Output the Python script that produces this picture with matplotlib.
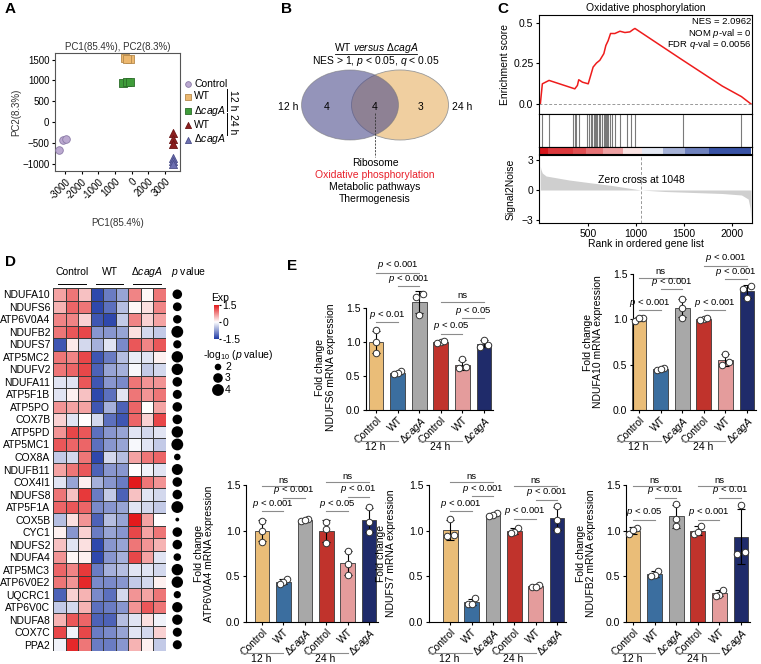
import numpy as np
import matplotlib
matplotlib.use("Agg")
import matplotlib.pyplot as plt
from matplotlib.patches import Ellipse
from matplotlib.colors import LinearSegmentedColormap
import matplotlib.transforms as mtransforms

plt.rcParams['font.family'] = ['Liberation Sans', 'DejaVu Sans']
plt.rcParams['mathtext.fontset'] = 'custom'
plt.rcParams['mathtext.rm'] = 'Liberation Sans'
plt.rcParams['mathtext.it'] = 'Liberation Sans:italic'
plt.rcParams['axes.linewidth'] = 0.8
plt.rcParams['font.size'] = 7.5

W, H = 761, 664
DCAGA = r'$\Delta$$\it{cagA}$'

# ---- A: PCA ----
pca_labels = ['Control', 'WT', DCAGA, 'WT', DCAGA]
pca_x = [[-3120, -2950, -3350], [600, 900, 720], [480, 720, 900], [3480, 3480, 3480], [3480, 3480, 3480]]
pca_y = [[-427, -400, -670], [1540, 1520, 1510], [930, 960, 975], [-260, -410, -525], [-870, -930, -1020]]
pca_xticklabels = ['-3000', '-2000', '-1000', '1000', '0', '2000', '3000']

# ---- B: Venn ----
venn_sets = ['12 h', '24 h']
venn_counts = [4, 4, 3]
shared_terms = ['Ribosome', 'Oxidative phosphorylation', 'Metabolic pathways', 'Thermogenesis']

# ---- C: GSEA ----
es_rank = [0, 21, 91, 360, 387, 401, 440, 500, 551, 586, 621, 663, 684, 708, 733, 778, 831, 883,
           935, 970, 988, 1460, 1900, 2100, 2199]
es_score = [0, 0.124, 0.145, 0.093, 0.114, 0.149, 0.134, 0.124, 0.227, 0.252, 0.269, 0.31, 0.36,
            0.39, 0.434, 0.434, 0.448, 0.44, 0.444, 0.459, 0.465, 0.28, 0.11, 0.045, 0]
hit_rank = [21, 91, 342, 360, 377, 401, 489, 510, 524, 541, 558, 569, 579, 593, 614, 628, 649,
            663, 674, 684, 698, 709, 726, 743, 778, 831, 901, 942, 988, 1487, 2094]
strip_edges = [0, 80, 342, 480, 656, 866, 1058, 1284, 1511, 1756, 2199]
strip_vals = [1.0, 0.85, 0.75, 0.6, 0.4, 0.12, -0.12, -0.4, -0.65, -0.9]
s2n_rank = [0, 5, 20, 60, 150, 300, 500, 750, 1048, 1300, 1600, 1900, 2100, 2170, 2190, 2199]
s2n_val = [2.4, 2.1, 1.7, 1.4, 1.25, 1.0, 0.75, 0.45, 0.0, -0.15, -0.25, -0.35, -0.5, -0.9, -1.8, -3.0]

# ---- D: heatmap ----
genes = ['NDUFA10', 'NDUFS6', 'ATP6V0A4', 'NDUFB2', 'NDUFS7', 'ATP5MC2', 'NDUFV2', 'NDUFA11',
         'ATP5F1B', 'ATP5PO', 'COX7B', 'ATP5PD', 'ATP5MC1', 'COX8A', 'NDUFB11', 'COX4I1', 'NDUFS8',
         'ATP5F1A', 'COX5B', 'CYC1', 'NDUFS2', 'NDUFA4', 'ATP5MC3', 'ATP6V0E2', 'UQCRC1', 'ATP6V0C',
         'NDUFA8', 'COX7C', 'PPA2']
exp = np.array([
    [0.6, 0.9, 0.4, -1.4, -1.0, -0.7, 0.8, 0.05, 0.9],
    [0.5, 1.0, 0.9, -1.4, -1.1, -0.5, 0.05, 0.2, 0.8],
    [0.8, 0.8, 0.3, -1.3, -1.4, -0.4, 0.8, 0.3, 0.6],
    [0.9, 1.1, 1.2, -0.8, -0.8, -0.7, 0.2, -0.3, -0.4],
    [-1.3, 0.15, -0.3, -0.6, -0.2, -0.9, 1.1, 0.8, 1.1],
    [0.9, 0.8, 1.2, -1.3, -1.0, -0.5, -0.15, -0.2, 0.1],
    [0.9, 1.0, 1.2, -1.2, -0.7, -0.6, -0.05, -0.4, -0.3],
    [-0.2, -0.2, 1.1, -1.3, -0.8, -0.9, 0.9, 0.7, 0.7],
    [-0.2, 0.1, 0.4, -1.4, -1.1, -0.2, 0.9, 0.7, 0.9],
    [0.7, 0.6, 0.6, -1.3, -0.6, -1.2, 1.0, 0.0, 0.6],
    [0.3, -0.2, 0.0, -0.3, -1.1, -1.3, 1.0, 0.3, 1.2],
    [0.7, 1.2, 1.1, -1.1, -0.8, -0.7, -0.2, -0.3, -0.2],
    [1.1, 1.0, 1.0, -1.1, -0.8, -0.7, -0.05, -0.2, -0.4],
    [-0.4, -0.3, 0.9, -1.4, -0.3, -0.5, 0.6, 0.9, 1.0],
    [0.6, 0.9, 1.1, -1.2, -0.8, -0.8, 0.0, -0.1, -0.2],
    [-0.2, -0.7, 0.1, -0.6, -0.8, -1.0, 1.5, 0.9, 0.7],
    [0.9, 0.4, 1.3, -1.0, -0.4, -1.2, 0.4, -0.2, -0.3],
    [1.0, 1.1, 1.0, -0.9, -0.8, -0.7, -0.2, -0.3, -0.4],
    [-0.5, 0.2, 0.7, -1.2, -0.5, -0.7, 1.5, 0.6, 0.0],
    [0.1, -0.8, 0.3, -1.0, -0.7, -0.8, 1.2, 0.6, 0.9],
    [0.4, -0.2, 0.2, -1.4, -0.8, -0.7, 0.9, 0.7, 0.5],
    [0.7, 0.05, 0.1, -1.4, -0.8, -0.6, 1.2, 0.6, -0.2],
    [1.0, 0.8, 1.3, -1.0, -0.6, -0.5, -0.2, -0.2, -0.3],
    [0.9, 0.7, 1.4, -0.9, -0.9, -0.8, -0.4, -0.3, 0.1],
    [-1.2, 0.3, 0.5, -0.9, -1.1, -0.3, 0.7, 0.6, 0.9],
    [-0.4, -0.3, 0.5, -1.1, -1.0, -0.8, 0.7, 1.1, 0.9],
    [0.5, 1.1, 1.0, -1.2, -1.2, -0.5, -0.2, 0.2, -0.1],
    [1.2, -0.1, 1.2, -1.0, -0.9, -0.7, -0.2, -0.3, 0.3],
    [-0.1, 1.4, 0.9, -1.0, -1.0, -0.8, 0.5, 0.1, -0.4]])
neglog_p = [3.0, 2.7, 2.6, 4.0, 2.5, 3.8, 3.8, 3.0, 2.8, 3.0, 3.0, 3.8, 4.0, 2.0, 3.6, 3.0, 3.0,
            4.0, 1.4, 3.0, 3.0, 2.3, 3.8, 3.8, 2.2, 3.3, 3.3, 2.8, 2.8]
heat_groups = ['Control', 'WT', DCAGA]

# ---- E: qPCR ----
bar_labels = ['Control', 'WT', DCAGA, 'Control', 'WT', DCAGA]
bar_colors = ['#EABD78', '#3B6E9F', '#A8A8A8', '#C0332C', '#E49C9C', '#1F2B6A']
ndufs6 = [[1.17, 1.0, 0.84], [0.57, 0.55, 0.53], [1.70, 1.66, 1.40], [1.00, 0.99, 1.01], [0.75, 0.63, 0.62], [1.03, 0.93, 0.96]]
ndufa10 = [[1.02, 0.98, 1.01], [0.46, 0.44, 0.45], [1.22, 1.02, 1.13], [1.0, 0.99, 1.01], [0.62, 0.50, 0.53], [1.37, 1.23, 1.33]]
atp6v0a4 = [[1.11, 1.0, 0.88], [0.47, 0.44, 0.42], [1.13, 1.11, 1.12], [1.10, 1.02, 0.87], [0.78, 0.63, 0.52], [1.26, 1.10, 0.99]]
ndufs7 = [[1.13, 0.95, 0.94], [0.26, 0.20, 0.20], [1.19, 1.17, 1.16], [1.03, 0.98, 0.97], [0.41, 0.38, 0.38], [1.27, 1.12, 1.01]]
ndufb2 = [[1.03, 0.96, 1.01], [0.56, 0.51, 0.50], [1.29, 1.13, 1.05], [1.05, 0.96, 0.99], [0.35, 0.30, 0.29], [1.28, 0.77, 0.75]]
# p labels: (12h C-WT, 12h WT-d, 12h C-d, 24h C-WT, 24h WT-d, 24h C-d)
ndufs6_p = ['p < 0.01', 'p < 0.001', 'p < 0.001', 'p < 0.05', 'p < 0.05', 'ns']
ndufa10_p = ['p < 0.001', 'p < 0.001', 'ns', 'p < 0.001', 'p < 0.001', 'p < 0.001']
atp6v0a4_p = ['p < 0.001', 'p < 0.001', 'ns', 'p < 0.05', 'p < 0.01', 'ns']
ndufs7_p = ['p < 0.001', 'p < 0.001', 'ns', 'p < 0.001', 'p < 0.001', 'ns']
ndufb2_p = ['p < 0.05', 'p < 0.01', 'ns', 'p < 0.001', 'p < 0.01', 'ns']

fig = plt.figure(figsize=(W / 100, H / 100), dpi=100)


def px_axes(x0, y0, x1, y1):
    return fig.add_axes([x0 / W, 1 - y1 / H, (x1 - x0) / W, (y1 - y0) / H])


def ptxt(s):
    return s.replace('p <', r'$\it{p}$ <')


ov = fig.add_axes([0, 0, 1, 1])
ov.set_xlim(0, W)
ov.set_ylim(H, 0)
ov.set_axis_off()

for lab, x, y in [('A', 5, 9), ('B', 281, 9), ('C', 497, 9), ('D', 5, 262), ('E', 287, 266)]:
    ov.text(x, y, lab, fontsize=11, fontweight='bold', va='center', ha='left')

# ---------------- A ----------------
axa = px_axes(55, 53, 180, 171)
pca_style = [dict(marker='o', c='#BBA9D0', edgecolors='#8A7AA6', s=30),
             dict(marker='s', c='#EDB86F', edgecolors='#B68A4C', s=30),
             dict(marker='s', c='#3F9C3A', edgecolors='#2B6C29', s=30),
             dict(marker='^', c='#8C1F1F', edgecolors='#6A1414', s=34),
             dict(marker='^', c='#6D70B1', edgecolors='#4B4E8A', s=34)]
handles = []
for lab, xs, ys, st in zip(pca_labels, pca_x, pca_y, pca_style):
    handles.append(axa.scatter(xs, ys, linewidths=0.6, label=lab, clip_on=False, zorder=3, **st))
axa.set_xlim(-3600, 3900)
axa.set_ylim(-1177, 1661)
axa.set_xticks(np.arange(-3000, 3001, 1000))
axa.set_xticklabels(pca_xticklabels, rotation=45, ha='right', rotation_mode='anchor', fontsize=7)
axa.set_yticks([1500, 1000, 500, 0, -500, -1000])
axa.tick_params(labelsize=7, length=2.5, pad=1.5)
axa.set_title('PC1(85.4%), PC2(8.3%)', fontsize=7, pad=2, color='#333333')
axa.set_ylabel('PC2(8.3%)', fontsize=7, labelpad=1, color='#333333')
axa.set_xlabel('PC1(85.4%)', fontsize=7, labelpad=0, color='#333333')
axa.yaxis.set_label_coords(-0.27, 0.5)
axa.xaxis.set_label_coords(0.5, -0.4)
for sp in axa.spines.values():
    sp.set_color('#555555')
leg = fig.legend(handles=handles, loc='upper left', bbox_to_anchor=(179 / W, 1 - 75 / H),
                 frameon=False, fontsize=7.5, handletextpad=0.05, labelspacing=0.22,
                 handlelength=1.0, borderaxespad=0, markerscale=0.75)
ov.plot([227, 227], [89, 111], color='black', lw=0.7)
ov.plot([227, 227], [113, 135], color='black', lw=0.7)
ov.text(233, 100, '12 h', rotation=-90, va='center', ha='center', fontsize=7.5)
ov.text(233, 124, '24 h', rotation=-90, va='center', ha='center', fontsize=7.5)

# ---------------- B ----------------
ov.add_patch(Ellipse((400, 105), 97, 70, facecolor='#F0CFA0', edgecolor='#999999', lw=0.6, zorder=1))
ov.add_patch(Ellipse((350, 105), 97, 70, facecolor='#4D4D8C', alpha=0.6, edgecolor='#777777', lw=0.6, zorder=2))
ov.text(376, 48, r'WT $\it{versus}$ $\Delta$$\it{cagA}$', ha='center', va='center', fontsize=7.5)
ov.plot([335, 417], [53.5, 53.5], color='black', lw=0.6)
ov.text(376, 61, r'NES > 1, $\it{p}$ < 0.05, $\it{q}$ < 0.05', ha='center', va='center', fontsize=7.5)
ov.text(288, 107, venn_sets[0], ha='center', va='center', fontsize=7.5)
ov.text(462, 107, venn_sets[1], ha='center', va='center', fontsize=7.5)
for cx, n in zip([327, 375, 421], venn_counts):
    ov.text(cx, 107, str(n), ha='center', va='center', fontsize=7.5, zorder=4)
ov.plot([375, 375], [113, 157], color='#333333', lw=0.6, ls=(0, (2.5, 1.5)), zorder=4)
for k, term in enumerate(shared_terms):
    ov.text(375, 163 + 12 * k, term, ha='center', va='center', fontsize=7.5,
            color='#E8202A' if k == 1 else 'black')

# ---------------- C ----------------
xl_c = (-14, 2210)
axes_c = px_axes(539, 15, 752, 114)
axes_c.plot(es_rank, es_score, color='#EE1C1C', lw=1.1)
axes_c.axhline(0, color='#999999', lw=0.7, ls=(0, (3, 2)))
axes_c.set_xlim(*xl_c)
axes_c.set_ylim(-0.062, 0.548)
axes_c.set_xticks([])
axes_c.set_yticks([0, 0.25, 0.5])
axes_c.set_yticklabels(['0.0', '0.25', '0.5'])
axes_c.tick_params(labelsize=7.5, length=2.5, pad=1.5)
axes_c.set_title('Oxidative phosphorylation', fontsize=7.5, pad=3)
axes_c.set_ylabel('Enrichment score', fontsize=7.5)
axes_c.yaxis.set_label_coords(-0.135, 0.5)
for k, s in enumerate(['NES = 2.0962', r'NOM $\it{p}$-val = 0', r'FDR $\it{q}$-val = 0.0056']):
    axes_c.text(0.998, 0.93 - 0.115 * k, s, transform=axes_c.transAxes, ha='right', va='center',
                fontsize=6.8)

hits_ax = px_axes(539, 114, 752, 147)
hits_ax.vlines(hit_rank, 0, 1, color='#7A7A7A', lw=0.8)
hits_ax.set_xlim(*xl_c)
hits_ax.set_ylim(0, 1)
hits_ax.set_xticks([])
hits_ax.set_yticks([])

strip_ax = px_axes(539, 147, 752, 154)
rank_cmap = LinearSegmentedColormap.from_list('rk', ['#23409C', '#FFFFFF', '#D6161B'])
strip_ax.pcolormesh(strip_edges, [0, 1], np.array([strip_vals]), cmap=rank_cmap, vmin=-1, vmax=1)
strip_ax.set_xlim(*xl_c)
strip_ax.set_xticks([])
strip_ax.set_yticks([])

s2n_ax = px_axes(539, 155, 752, 223)
s2n_ax.fill_between(s2n_rank, s2n_val, 0, color='#CFCFCF', lw=0)
s2n_ax.axvline(1048, color='#999999', lw=0.7, ls=(0, (3, 2)))
s2n_ax.text(1050, 1.0, 'Zero cross at 1048', ha='center', va='center', fontsize=7.5)
s2n_ax.set_xlim(*xl_c)
s2n_ax.set_ylim(-3.3, 3.5)
s2n_ax.set_yticks([-3, 0, 3])
s2n_ax.set_yticklabels(['\u22123', '0', '3'])
s2n_ax.set_xticks([500, 1000, 1500, 2000])
s2n_ax.tick_params(labelsize=7.5, length=2.5, pad=1.5)
s2n_ax.set_xlabel('Rank in ordered gene list', fontsize=7.5, labelpad=0)
s2n_ax.set_ylabel('Signal2Noise', fontsize=7.5)
s2n_ax.yaxis.set_label_coords(-0.11, 0.5)

# ---------------- D ----------------
axd = px_axes(53, 288, 166, 651)
heat_cmap = LinearSegmentedColormap.from_list('hm', ['#213CA6', '#FFFFFF', '#E31A1C'])
axd.pcolormesh(np.arange(10), np.arange(len(genes) + 1), exp, cmap=heat_cmap, vmin=-1.5, vmax=1.5,
               edgecolors='#3A3A3A', linewidth=0.5)
axd.set_xlim(0, 9)
axd.set_ylim(len(genes), 0)
axd.set_yticks(np.arange(len(genes)) + 0.5)
axd.set_yticklabels(genes, fontsize=7.5)
axd.set_xticks([])
axd.tick_params(length=0, pad=2)
for sp in axd.spines.values():
    sp.set_visible(False)
dot_size = 10 + 25 * (np.array(neglog_p) - 1.5)
axd.scatter(np.full(len(genes), 9.9), np.arange(len(genes)) + 0.5, s=dot_size, c='black',
            clip_on=False, linewidths=0)
for k, g in enumerate(heat_groups):
    axd.plot([3 * k + 0.4, 3 * k + 2.6], [-0.35, -0.35], color='black', lw=0.7, clip_on=False)
    axd.text(3 * k + 1.5, -1.3, g, ha='center', va='center', fontsize=7.5)
axd.text(10.8, -1.3, r'$\it{p}$ value', ha='center', va='center', fontsize=7.5)

cb_ax = px_axes(214, 305, 219, 339)
cb_ax.imshow(np.linspace(1.5, -1.5, 100)[:, None], aspect='auto', cmap=heat_cmap, vmin=-1.5, vmax=1.5,
             extent=[0, 1, -1.5, 1.5])
cb_ax.set_xticks([])
cb_ax.yaxis.tick_right()
cb_ax.set_yticks([1.5, 0, -1.5])
cb_ax.set_yticklabels(['1.5', '0', '-1.5'])
cb_ax.tick_params(labelsize=7.5, length=1.5, pad=1)
for sp in cb_ax.spines.values():
    sp.set_visible(False)
ov.text(220, 298, 'Exp', ha='center', va='center', fontsize=7.5)
ov.text(203, 355, r'-log$_{10}$ ($\it{p}$ value)', ha='left', va='center', fontsize=7.5)
leg_vals = [2, 3, 4]
ov.scatter([218] * 3, [367, 378, 390], s=10 + 25 * (np.array(leg_vals) - 1.5), c='black', linewidths=0)
for v, y in zip(leg_vals, [367, 378, 390]):
    ov.text(225, y, str(v), ha='left', va='center', fontsize=7.5)


# ---------------- E ----------------
def spread(vals):
    vals = np.asarray(vals)
    order = np.argsort(vals)
    offs = np.zeros(len(vals))
    clusters = [[order[0]]]
    for i in order[1:]:
        if vals[i] - vals[clusters[-1][-1]] < 0.07:
            clusters[-1].append(i)
        else:
            clusters.append([i])
    for cl in clusters:
        k = len(cl)
        if k > 1:
            offs[cl] = np.linspace(-0.17, 0.17, k)
    return offs


def bar_panel(rect, xl, pts, gene, plabels, heights, y0px, top_px):
    ax = px_axes(rect[0], top_px, rect[1], y0px)
    x = np.arange(6)
    means = [np.mean(p) for p in pts]
    sds = [np.std(p, ddof=1) for p in pts]
    ax.bar(x, means, width=0.68, color=bar_colors, edgecolor='#3A3A3A', linewidth=0.6, zorder=1,
           clip_on=False)
    ax.errorbar(x, means, yerr=sds, fmt='none', ecolor='black', elinewidth=0.8, capsize=2.8,
                capthick=0.8, zorder=2, clip_on=False)
    for i, p in enumerate(pts):
        ax.scatter(i + spread(p), p, s=22, facecolors='white', edgecolors='#333333', linewidths=0.7,
                   zorder=3, clip_on=False)
    ax.set_xlim(xl, 5.42)
    ax.set_ylim(0, 1.5)
    ax.set_yticks([0, 0.5, 1.0, 1.5])
    ax.set_yticklabels(['0.0', '0.5', '1.0', '1.5'])
    ax.set_xticks(x)
    ax.set_xticklabels(bar_labels, rotation=45, ha='right', rotation_mode='anchor', fontsize=7.5)
    ax.tick_params(labelsize=7.5, length=2.5, pad=1.5)
    ax.tick_params(axis='x', length=2)
    ax.spines['top'].set_visible(False)
    ax.spines['right'].set_visible(False)
    ax.set_ylabel('Fold change\n%s mRNA expression' % gene, fontsize=7.5, linespacing=1.05)
    pairs = [(0, 1), (1, 2), (0, 2), (3, 4), (4, 5), (3, 5)]
    for (i, j), lab, h in zip(pairs, plabels, heights):
        ax.plot([i, j], [h, h], color='#8C8C8C', lw=0.8, clip_on=False)
        ax.annotate(ptxt(lab), xy=((i + j) / 2, h), xytext=(0, 1), textcoords='offset points',
                    ha='center', va='bottom', fontsize=6.8, annotation_clip=False)
    trans = mtransforms.blended_transform_factory(ax.transData, ov.transData)
    for g0, lab in [(0, '12 h'), (3, '24 h')]:
        ax.plot([g0 - 1, g0 + 1], [y0px + 31, y0px + 31], color='#8C8C8C', lw=0.8, transform=trans,
                clip_on=False)
        ax.text(g0 - 0.05, y0px + 37.5, lab, transform=trans, ha='center', va='center', fontsize=7.5,
                clip_on=False)
    return ax


e1 = bar_panel((366, 493), -0.47, ndufs6, 'NDUFS6', ndufs6_p,
               [1.29, 1.82, 2.02, 1.12, 1.35, 1.59], 410, 308)
e1.yaxis.set_label_coords(-0.24, 0.42)
e2 = bar_panel((633, 756), -0.28, ndufa10, 'NDUFA10', ndufa10_p,
               [1.10, 1.33, 1.46, 1.10, 1.44, 1.59], 410, 274)
e2.yaxis.set_label_coords(-0.24, 0.5)
e3 = bar_panel((246, 378), -0.75, atp6v0a4, 'ATP6V0A4', atp6v0a4_p,
               [1.21, 1.36, 1.49, 1.21, 1.37, 1.53], 622, 485)
e3.yaxis.set_label_coords(-0.24, 0.5)
e4 = bar_panel((429, 566), -1.0, ndufs7, 'NDUFS7', ndufs7_p,
               [1.21, 1.38, 1.53, 1.13, 1.34, 1.49], 622, 485)
e4.yaxis.set_label_coords(-0.24, 0.5)
e5 = bar_panel((626, 750), -0.33, ndufb2, 'NDUFB2', ndufb2_p,
               [1.12, 1.36, 1.49, 1.12, 1.36, 1.49], 622, 485)
e5.yaxis.set_label_coords(-0.24, 0.5)

fig.savefig('out.png', dpi=100)
